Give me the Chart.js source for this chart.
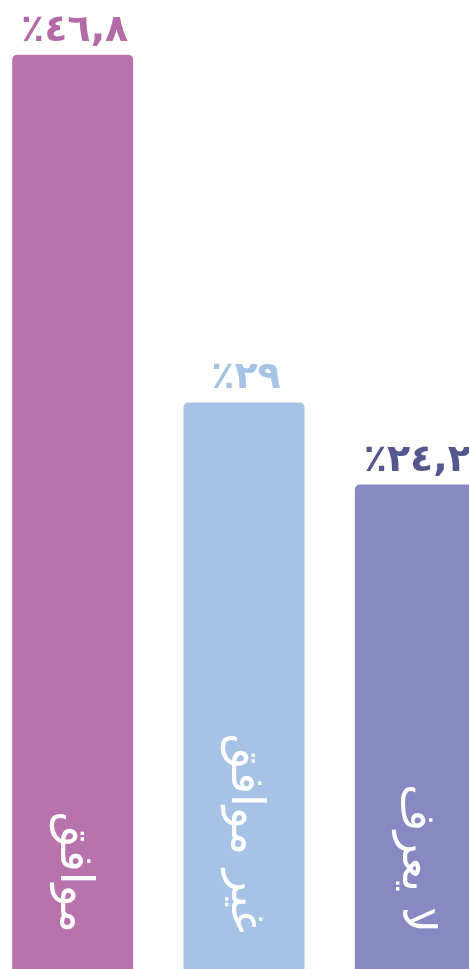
<!DOCTYPE html>
<html lang="ar">
<head>
<meta charset="utf-8">
<script src="https://cdn.jsdelivr.net/npm/chart.js@4"></script>
<style>
  html, body { margin: 0; padding: 0; background: #fff; overflow: hidden; width: 469px; height: 969px; }
  #wrap { position: absolute; left: -13px; top: 0; width: 514px; height: 969px; }
</style>
</head>
<body>
<div id="wrap"><canvas id="chart"></canvas></div>
<script>
// data
const categories = ["موافق", "غير موافق", "لا يعرف"];
const values = [46.8, 29, 24.8];
const valueLabels = ["٤٦,٨٪", "٢٩٪", "٢٤,٢٪"];
const barColors = ["#B872AC", "#A6C3E6", "#8889C3"];
const labelColors = ["#B36BA7", "#A6C3E6", "#56568F"];

// draws the value above each bar and the rotated category name inside it
const barText = {
  id: "barText",
  afterDatasetsDraw(chart) {
    const ctx = chart.ctx;
    const meta = chart.getDatasetMeta(0);
    meta.data.forEach((bar, i) => {
      ctx.save();
      ctx.direction = "rtl";
      ctx.fillStyle = labelColors[i];
      ctx.font = "bold 38px 'DejaVu Sans'";
      ctx.textAlign = "center";
      ctx.textBaseline = "alphabetic";
      ctx.fillText(valueLabels[i], bar.x + 2, bar.y - 14);
      ctx.restore();

      ctx.save();
      ctx.translate(bar.x, chart.chartArea.bottom - 36);
      ctx.rotate(Math.PI / 2);
      ctx.direction = "rtl";
      ctx.fillStyle = "#fff";
      ctx.font = "46px 'DejaVu Sans'";
      ctx.textAlign = "right";
      ctx.textBaseline = "middle";
      ctx.fillText(categories[i], 0, 0);
      ctx.restore();
    });
  }
};

new Chart(document.getElementById("chart"), {
  type: "bar",
  data: {
    labels: categories,
    datasets: [{
      data: values,
      backgroundColor: barColors,
      borderRadius: { topLeft: 5, topRight: 5 },
      borderSkipped: "bottom",
      categoryPercentage: 1,
      barPercentage: 0.706
    }]
  },
  options: {
    responsive: true,
    maintainAspectRatio: false,
    animation: false,
    layout: { padding: 0 },
    plugins: {
      legend: { display: false },
      tooltip: { enabled: false }
    },
    scales: {
      x: { display: false },
      y: { display: false, min: 0, max: 49.6 }
    }
  },
  plugins: [barText]
});
</script>
</body>
</html>
